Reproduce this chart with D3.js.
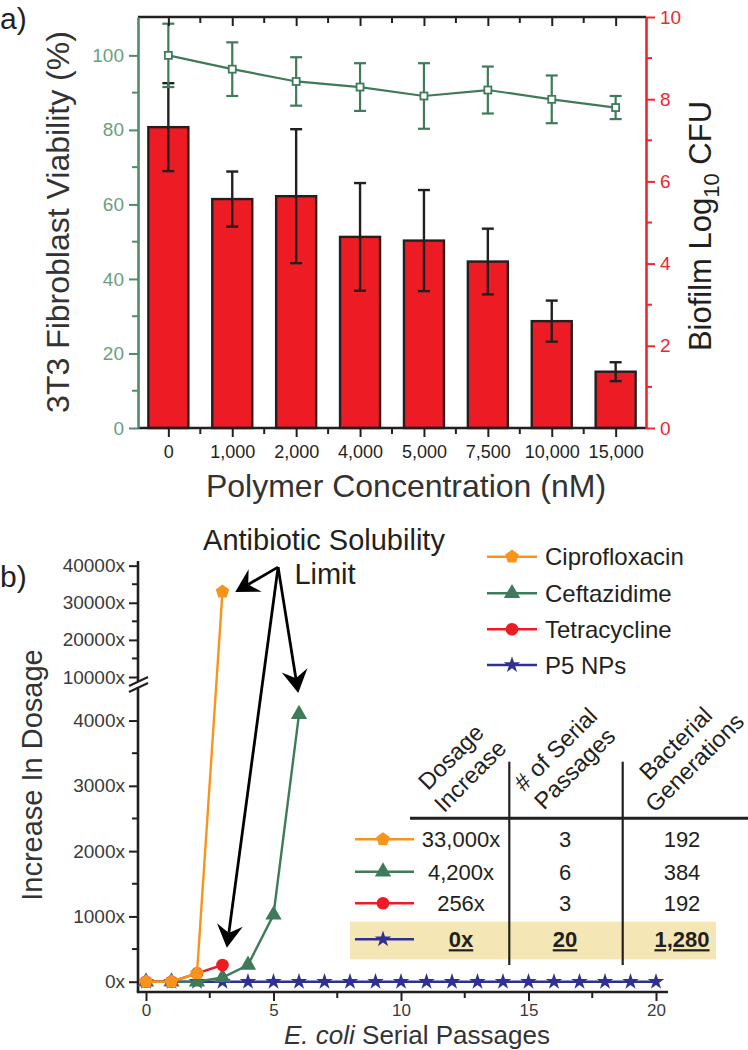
<!DOCTYPE html>
<html><head><meta charset="utf-8">
<script src="https://cdn.jsdelivr.net/npm/d3@7"></script>
<style>body{margin:0;background:#fff}svg{display:block;font-family:"Liberation Sans",Arial,Helvetica,sans-serif}</style>
</head><body><svg id="c" width="748" height="1050"></svg>
<script>
// ---------- Panel a data ----------
const concentrations = ["0","1,000","2,000","4,000","5,000","7,500","10,000","15,000"];
const biofilmLogCFU = [7.32,5.57,5.64,4.65,4.56,4.05,2.60,1.37];
const biofilmErr = [1.07,0.67,1.63,1.31,1.23,0.80,0.50,0.23];
const viability = [100,96.3,93.0,91.5,89.1,90.7,88.2,86.0];
const viabilityErr = [8.5,7.2,6.5,6.4,8.8,6.3,6.4,3.1];
const leftTicks = [0,20,40,60,80,100];
const leftMinor = [10,30,50,70,90];
const rightTicks = [0,2,4,6,8,10];
const rightMinor = [1,3,5,7,9];

// ---------- Panel b data ----------
const ciproX = [0,1,2,3];
const ciproY = [0,0,128,33000];
const ceftX = [0,1,2,3,4,5,6];
const ceftY = [0,0,0,64,256,1024,4096];
const tetraX = [0,1,2,3];
const tetraY = [0,0,128,256];
const p5X = [0,1,2,3,4,5,6,7,8,9,10,11,12,13,14,15,16,17,18,19,20];
const p5Y = [0,0,0,0,0,0,0,0,0,0,0,0,0,0,0,0,0,0,0,0,0];
const seriesNames = ["Ciprofloxacin","Ceftazidime","Tetracycline","P5 NPs"];
const lowTicks = [0,1000,2000,3000,4000];
const lowMinor = [500,1500,2500,3500];
const highTicks = [10000,20000,30000,40000];
const highMinor = [15000,25000,35000];
const passTicks = [0,5,10,15,20];
const passMinor = [2.5,7.5,12.5,17.5];
const tableDosage = ["33,000x","4,200x","256x","0x"];
const tablePassages = ["3","6","3","20"];
const tableGenerations = ["192","384","192","1,280"];
const tableHeaders = [["Dosage","Increase"],["# of Serial","Passages"],["Bacterial","Generations"]];

const INK = "#231f20";
const GREEN = "#3f7b5a", GREEN_AX = "#4f8c69", GREEN_TXT = "#6a9e82";
const RED = "#ed1c24", RED_AX = "#f0262c";
const ORANGE = "#f7941d", NAVY = "#2e3192";

const svg = d3.select("#c");

// ================= Panel a =================
const xA = d3.scalePoint().domain(concentrations).range([138,646]).padding(0.475);
const yL = d3.scaleLinear().domain([0,110.3]).range([428,17]);
const yR = d3.scaleLinear().domain([0,10]).range([428,17]);
const step = xA.step();

const gA = svg.append("g");
gA.selectAll("rect.bar").data(biofilmLogCFU).join("rect")
  .attr("x",(d,i)=>xA(concentrations[i])-20).attr("width",40)
  .attr("y",d=>yR(d)).attr("height",d=>yR(0)-yR(d))
  .attr("fill",RED).attr("stroke",INK).attr("stroke-width",2.4);
biofilmLogCFU.forEach((v,i)=>{
  const x = xA(concentrations[i]), e = biofilmErr[i];
  const g = gA.append("g").attr("stroke",INK).attr("stroke-width",2.4);
  g.append("line").attr("x1",x).attr("x2",x).attr("y1",yR(v-e)).attr("y2",yR(v+e));
  g.append("line").attr("x1",x-6).attr("x2",x+6).attr("y1",yR(v-e)).attr("y2",yR(v-e));
  g.append("line").attr("x1",x-6).attr("x2",x+6).attr("y1",yR(v+e)).attr("y2",yR(v+e));
});
viability.forEach((v,i)=>{
  const x = xA(concentrations[i]), e = viabilityErr[i];
  const g = gA.append("g").attr("stroke",GREEN).attr("stroke-width",2.2);
  g.append("line").attr("x1",x).attr("x2",x).attr("y1",yL(v-e)).attr("y2",yL(v+e));
  g.append("line").attr("x1",x-6).attr("x2",x+6).attr("y1",yL(v-e)).attr("y2",yL(v-e));
  g.append("line").attr("x1",x-6).attr("x2",x+6).attr("y1",yL(v+e)).attr("y2",yL(v+e));
});
gA.append("path").datum(viability)
  .attr("d",d3.line().x((d,i)=>xA(concentrations[i])).y(d=>yL(d)))
  .attr("fill","none").attr("stroke",GREEN).attr("stroke-width",2.2);
gA.selectAll("rect.sq").data(viability).join("rect")
  .attr("x",(d,i)=>xA(concentrations[i])-3.5).attr("y",d=>yL(d)-3.5)
  .attr("width",7).attr("height",7).attr("fill","#fff").attr("stroke",GREEN).attr("stroke-width",1.8);

function styleAxis(g,color,txtColor,fs){
  g.select(".domain").attr("stroke",color).attr("stroke-width",2.6);
  g.selectAll(".tick line").attr("stroke",color).attr("stroke-width",2);
  g.selectAll(".tick text").attr("fill",txtColor).attr("font-size",fs).attr("font-family","Liberation Sans, Arial, sans-serif");
}
const axB = svg.append("g").attr("transform","translate(0,428)")
  .call(d3.axisBottom(xA).tickSize(9).tickSizeOuter(0).tickPadding(8));
axB.select(".domain").attr("d","M138,0H646");
styleAxis(axB,INK,INK,18);
const minorX = [];
for(let i=1;i<concentrations.length;i++) minorX.push(xA(concentrations[i])-step/2);
axB.selectAll("line.mn").data(minorX).join("line").attr("x1",d=>d).attr("x2",d=>d)
  .attr("y1",0).attr("y2",6).attr("stroke",INK).attr("stroke-width",2);
const axT = svg.append("g").attr("transform","translate(0,17)")
  .call(d3.axisTop(xA).tickSize(-9).tickSizeOuter(0).tickFormat(""));
axT.select(".domain").attr("d","M138,0H646");
styleAxis(axT,INK,INK,18);
axT.selectAll("line.mn").data(minorX).join("line").attr("x1",d=>d).attr("x2",d=>d)
  .attr("y1",0).attr("y2",6).attr("stroke",INK).attr("stroke-width",2);
const axL = svg.append("g").attr("transform","translate(138,0)")
  .call(d3.axisLeft(yL).tickValues(leftTicks).tickSize(9).tickSizeOuter(0).tickPadding(5));
styleAxis(axL,GREEN_AX,GREEN_TXT,19);
axL.selectAll("line.mn").data(leftMinor).join("line").attr("x1",0).attr("x2",-6)
  .attr("y1",d=>yL(d)).attr("y2",d=>yL(d)).attr("stroke",GREEN_AX).attr("stroke-width",2);
const axR = svg.append("g").attr("transform","translate(646,0)")
  .call(d3.axisRight(yR).tickValues(rightTicks).tickSize(9).tickSizeOuter(0).tickPadding(5));
styleAxis(axR,RED_AX,RED_AX,19);
axR.selectAll("line.mn").data(rightMinor).join("line").attr("x1",0).attr("x2",6)
  .attr("y1",d=>yR(d)).attr("y2",d=>yR(d)).attr("stroke",RED_AX).attr("stroke-width",2);

svg.append("text").attr("x",0).attr("y",29).attr("font-size",30).attr("fill",INK).text("a)");
svg.append("text").attr("transform","translate(69,222) rotate(-90)").attr("text-anchor","middle")
  .attr("font-size",32).attr("fill","#333").text("3T3 Fibroblast Viability (%)");
const rt = svg.append("text").attr("transform","translate(711,226) rotate(-90)").attr("text-anchor","middle")
  .attr("font-size",31).attr("fill",INK);
rt.append("tspan").text("Biofilm Log");
rt.append("tspan").attr("font-size",22).attr("dy",8).text("10");
rt.append("tspan").attr("dy",-8).text(" CFU");
svg.append("text").attr("x",406).attr("y",497).attr("text-anchor","middle")
  .attr("font-size",32).attr("fill","#333").text("Polymer Concentration (nM)");

// ================= Panel b =================
const xB = d3.scaleLinear().domain([0,20]).range([146,656]);
const yLow = d3.scaleLinear().domain([-150,4500]).range([991.5,687.9]);
const yHigh = d3.scaleLinear().domain([10000,41200]).range([677,561.2]);
const yB = v => v<=4500 ? yLow(v) : yHigh(v);

const gB = svg.append("g");
const axBL = gB.append("g").attr("transform","translate(138,0)")
  .call(d3.axisLeft(yLow).tickValues(lowTicks).tickSize(9).tickSizeOuter(0).tickPadding(4).tickFormat(d=>d+"x"));
axBL.select(".domain").attr("d","M0,991.5V687");
styleAxis(axBL,INK,"#3a3a3a",19);
axBL.selectAll("line.mn").data(lowMinor).join("line").attr("x1",0).attr("x2",-6)
  .attr("y1",d=>yLow(d)).attr("y2",d=>yLow(d)).attr("stroke",INK).attr("stroke-width",2);
const axBH = gB.append("g").attr("transform","translate(138,0)")
  .call(d3.axisLeft(yHigh).tickValues(highTicks).tickSize(9).tickSizeOuter(0).tickPadding(4).tickFormat(d=>d+"x"));
axBH.select(".domain").attr("d","M0,681V561");
styleAxis(axBH,INK,"#3a3a3a",19);
axBH.selectAll("line.mn").data(highMinor).join("line").attr("x1",0).attr("x2",-6)
  .attr("y1",d=>yHigh(d)).attr("y2",d=>yHigh(d)).attr("stroke",INK).attr("stroke-width",2);
gB.append("line").attr("x1",129).attr("y1",686).attr("x2",148).attr("y2",677).attr("stroke",INK).attr("stroke-width",2.2);
gB.append("line").attr("x1",129).attr("y1",692).attr("x2",148).attr("y2",683).attr("stroke",INK).attr("stroke-width",2.2);

const axBB = gB.append("g").attr("transform","translate(0,992)")
  .call(d3.axisBottom(xB).tickValues(passTicks).tickSize(9).tickSizeOuter(0).tickPadding(3));
axBB.select(".domain").attr("d","M136.7,0H668");
styleAxis(axBB,INK,"#3a3a3a",17);
axBB.selectAll("line.mn").data(passMinor).join("line").attr("x1",d=>xB(d)).attr("x2",d=>xB(d))
  .attr("y1",0).attr("y2",6).attr("stroke",INK).attr("stroke-width",2);

const symbolPentagon = {draw(ctx,size){
  const r = Math.sqrt(size/2.378);
  for(let i=0;i<5;i++){const a=-Math.PI/2+i*2*Math.PI/5;const x=r*Math.cos(a),y=r*Math.sin(a);
    if(i===0)ctx.moveTo(x,y);else ctx.lineTo(x,y);}
  ctx.closePath();}};
const seriesStyles = [
  {color:ORANGE, sym:symbolPentagon, size:120},
  {color:GREEN, sym:d3.symbolTriangle, size:115},
  {color:RED, sym:d3.symbolCircle, size:125},
  {color:NAVY, sym:d3.symbolStar, size:85}
];
const seriesData = [
  ciproX.map((x,i)=>[x,ciproY[i]]),
  ceftX.map((x,i)=>[x,ceftY[i]]),
  tetraX.map((x,i)=>[x,tetraY[i]]),
  p5X.map((x,i)=>[x,p5Y[i]])
];
const drawOrder = [3,1,2,0];
const lineGen = d3.line().x(d=>xB(d[0])).y(d=>yB(d[1]));
drawOrder.forEach(k=>{
  const st = seriesStyles[k];
  gB.append("path").datum(seriesData[k]).attr("d",lineGen).attr("fill","none")
    .attr("stroke",st.color).attr("stroke-width",2.4);
  gB.selectAll(null).data(seriesData[k]).join("path")
    .attr("transform",d=>`translate(${xB(d[0])},${yB(d[1])})`)
    .attr("d",d3.symbol(st.sym,st.size)).attr("fill",st.color);
});

const annoOrigin = [5.18,39600];
const annoTips = [[3.5,32900],[5.97,4420],[3.17,520]];
function arrow(x0,y0,x1,y1){
  const dx=x1-x0, dy=y1-y0, L=Math.hypot(dx,dy), ux=dx/L, uy=dy/L, nx=-uy, ny=ux;
  const hl=23, hw=13, notch=15;
  gB.append("line").attr("x1",x0).attr("y1",y0).attr("x2",x1-ux*notch).attr("y2",y1-uy*notch)
    .attr("stroke","#000").attr("stroke-width",2.8);
  const p=[[x1,y1],[x1-ux*hl+nx*hw,y1-uy*hl+ny*hw],[x1-ux*notch,y1-uy*notch],[x1-ux*hl-nx*hw,y1-uy*hl-ny*hw]];
  gB.append("path").attr("d","M"+p.map(q=>q.join(",")).join("L")+"Z").attr("fill","#000");
}
annoTips.forEach(t=>arrow(xB(annoOrigin[0]),yB(annoOrigin[1]),xB(t[0]),yB(t[1])));
svg.append("text").attr("x",324).attr("y",550).attr("text-anchor","middle").attr("font-size",29)
  .attr("fill",INK).text("Antibiotic Solubility");
svg.append("text").attr("x",325).attr("y",584).attr("text-anchor","middle").attr("font-size",29)
  .attr("fill",INK).text("Limit");

const legY = [556.7,593.3,629.3,665];
seriesNames.forEach((n,k)=>{
  const st=seriesStyles[k], y=legY[k];
  svg.append("line").attr("x1",487).attr("x2",537).attr("y1",y).attr("y2",y).attr("stroke",st.color).attr("stroke-width",2.4);
  svg.append("path").attr("transform",`translate(512,${y})`).attr("d",d3.symbol(st.sym,st.size)).attr("fill",st.color);
  svg.append("text").attr("x",545).attr("y",y).attr("dy","0.36em").attr("font-size",24).attr("fill",INK).text(n);
});

const rowY = [839.3,871.7,903.3,939.3];
svg.append("rect").attr("x",350).attr("y",921.7).attr("width",366).attr("height",37.6).attr("fill","#f5e7b5");
svg.append("line").attr("x1",410).attr("x2",748).attr("y1",818.3).attr("y2",818.3).attr("stroke",INK).attr("stroke-width",3);
[509.3,622.7].forEach(x=>svg.append("line").attr("x1",x).attr("x2",x).attr("y1",761.7).attr("y2",965).attr("stroke",INK).attr("stroke-width",2.2));
const headerPos = [[460.4,766.3],[565,758.8],[685,752.9]];
tableHeaders.forEach((h,i)=>{
  const t = svg.append("text").attr("transform",`translate(${headerPos[i][0]},${headerPos[i][1]}) rotate(-45)`)
    .attr("text-anchor","middle").attr("font-size",23.5).attr("fill",INK);
  t.append("tspan").attr("x",0).attr("y",-13.5).attr("dy","0.35em").text(h[0]);
  t.append("tspan").attr("x",0).attr("y",13.5).attr("dy","0.35em").text(h[1]);
});
const colX = [461,565,682];
const cols = [tableDosage,tablePassages,tableGenerations];
rowY.forEach((y,r)=>{
  const st=seriesStyles[r];
  svg.append("line").attr("x1",355).attr("x2",414).attr("y1",y).attr("y2",y).attr("stroke",st.color).attr("stroke-width",2.4);
  svg.append("path").attr("transform",`translate(383,${y})`).attr("d",d3.symbol(st.sym,st.size)).attr("fill",st.color);
  cols.forEach((c,ci)=>{
    const t = svg.append("text").attr("x",colX[ci]).attr("y",y).attr("dy","0.36em").attr("text-anchor","middle")
      .attr("font-size",22).attr("fill",INK).text(c[r]);
    if(r===3) t.attr("font-weight","bold").attr("text-decoration","underline");
  });
});

svg.append("text").attr("x",0).attr("y",587).attr("font-size",30).attr("fill",INK).text("b)");
svg.append("text").attr("transform","translate(42,775) rotate(-90)").attr("text-anchor","middle")
  .attr("font-size",29).attr("fill","#333").text("Increase In Dosage");
const xt = svg.append("text").attr("x",417).attr("y",1043.5).attr("text-anchor","middle").attr("font-size",26).attr("fill","#333");
xt.append("tspan").attr("font-style","italic").text("E. coli");
xt.append("tspan").text(" Serial Passages");
</script></body></html>
